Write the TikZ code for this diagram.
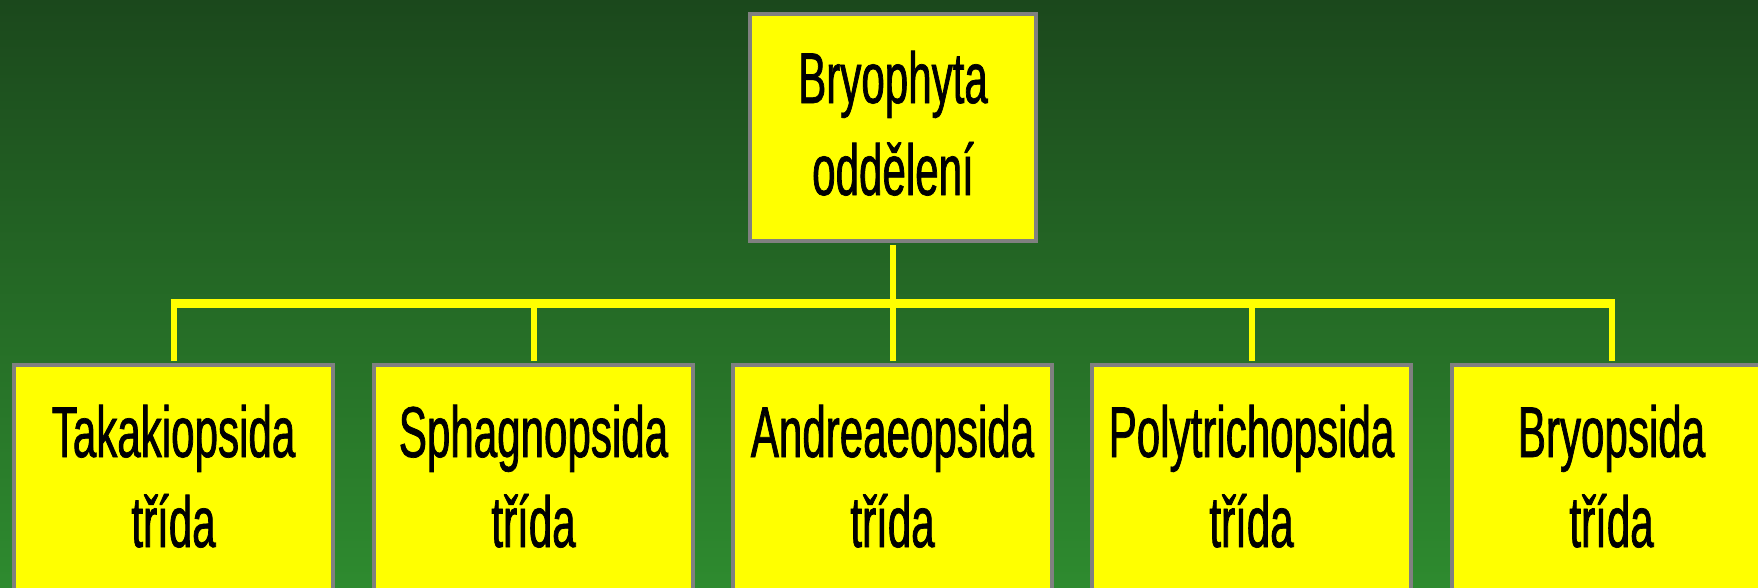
\documentclass[tikz,border=0pt]{standalone}
\usepackage{fontspec}
\setmainfont{Liberation Sans}[FakeStretch=0.585, FakeBold=1]
\definecolor{bgtop}{RGB}{27,72,28}
\definecolor{bgbot}{RGB}{46,139,47}
\definecolor{boxyel}{RGB}{255,255,0}
\definecolor{boxgray}{RGB}{128,128,128}
\tikzset{
  box/.style={draw=boxgray, line width=4pt, fill=boxyel, inner sep=0pt},
  topbox/.style={box, minimum width=286pt, minimum height=227pt},
  classbox/.style={box, minimum width=319pt, minimum height=260pt},
  txt/.style={inner sep=0pt, anchor=base, text=black, font=\fontsize{72}{90}\selectfont},
  stem/.style={draw=boxyel, line width=6pt},
  busline/.style={draw=boxyel, line width=9pt}
}
\begin{document}
\begin{tikzpicture}[x=1pt,y=-1pt]
\useasboundingbox (0,0) rectangle (1758,587);
\clip (0,0) rectangle (1758,587);
\shade[top color=bgtop, bottom color=bgbot] (0,0) rectangle (1758,587);

% boxes
\node[topbox] (top) at (893,127.5) {};
\node[classbox] (b1) at (173.5,495) {};
\node[classbox] (b2) at (533.5,495) {};
\node[classbox] (b3) at (892.5,495) {};
\node[classbox] (b4) at (1251.5,495) {};
\node[classbox] (b5) at (1611.5,495) {};

% connectors
\coordinate (bus) at (892.5,303.5);
\draw[stem, shorten <=2pt] (top.south) -- (top.south |- bus);
\draw[busline] ([xshift=-3pt]b1.north |- bus) -- ([xshift=3pt]b5.north |- bus);
\foreach \b in {b1,b2,b3,b4,b5}{
  \draw[stem, shorten >=2pt] (\b.north |- bus) -- (\b.north);
}

% texts
\node[txt] (topa) at (893,103) {Bryophyta};
\node[txt] (topb) at (893,195) {oddělení};
\node[txt] (b1a) at (173.5,457) {Takakiopsida};
\node[txt] (b1b) at (173.5,547) {třída};
\node[txt] (b2a) at (533.5,457) {Sphagnopsida};
\node[txt] (b2b) at (533.5,547) {třída};
\node[txt] (b3a) at (892.5,457) {Andreaeopsida};
\node[txt] (b3b) at (892.5,547) {třída};
\node[txt] (b4a) at (1251.5,457) {Polytrichopsida};
\node[txt] (b4b) at (1251.5,547) {třída};
\node[txt] (b5a) at (1611.5,457) {Bryopsida};
\node[txt] (b5b) at (1611.5,547) {třída};
\end{tikzpicture}
\end{document}
